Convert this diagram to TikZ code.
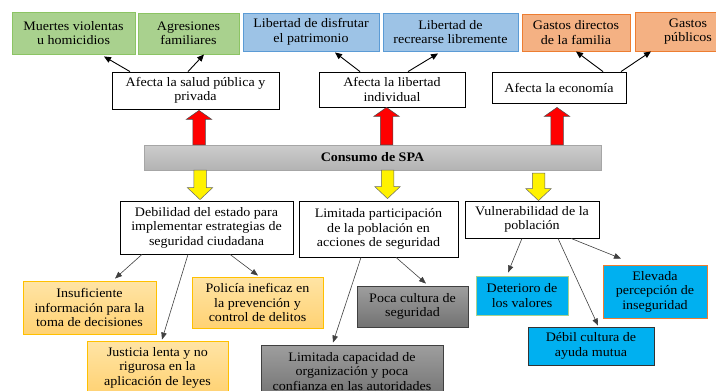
\documentclass[tikz,border=0pt]{standalone}
\usepackage{fontspec}
\setmainfont{Liberation Serif}[FakeStretch=1.08]
\usetikzlibrary{arrows.meta,calc}
\definecolor{leafgreen}{RGB}{169,209,142}
\definecolor{leafedge}{RGB}{140,196,100}
\definecolor{skyblue}{RGB}{157,195,230}
\definecolor{skyedge}{RGB}{91,155,213}
\definecolor{peach}{RGB}{244,177,131}
\definecolor{peachedge}{RGB}{237,125,49}
\definecolor{sandtop}{RGB}{255,228,165}
\definecolor{sandbot}{RGB}{255,210,115}
\definecolor{sandedge}{RGB}{255,192,0}
\definecolor{cyanfill}{RGB}{0,176,240}

\newcommand{\fatarrow}[4]{%
  \draw[#1] let \p1=(#2), \p2=(#3) in
    ({\x1-6.25pt},\y1) -- ({\x1-6.25pt},{\y2+(#4)}) -- ({\x1-12.75pt},{\y2+(#4)}) -- (\x1,\y2)
    -- ({\x1+12.75pt},{\y2+(#4)}) -- ({\x1+6.25pt},{\y2+(#4)}) -- ({\x1+6.25pt},\y1) -- cycle;}

\tikzset{
  box/.style={draw, align=center, inner sep=1pt, font=\fontsize{13}{14.5}\selectfont},
  whitebox/.style={box, fill=white, draw=black, line width=0.8pt},
  greenbox/.style={box, fill=leafgreen, draw=leafedge, line width=0.9pt},
  bluebox/.style={box, fill=skyblue, draw=skyedge, line width=0.9pt},
  peachbox/.style={box, fill=peach, draw=peachedge, line width=0.9pt},
  sandbox/.style={box, top color=sandtop, bottom color=sandbot, draw=sandedge, line width=0.9pt},
  greybox/.style={box, top color=black!38, bottom color=black!55, draw=black!75, line width=0.9pt},
  cyanbox/.style={box, fill=cyanfill, line width=0.9pt},
  link/.style={-{Triangle[length=7pt,width=6pt]}, line width=0.9pt, draw=black},
  thinlink/.style={-{Triangle[length=7pt,width=5.5pt]}, line width=0.6pt, draw=black!75},
  redblock/.style={fill=red, draw=black!70, line width=0.5pt},
  yellowblock/.style={fill=yellow, draw=black!60, line width=0.5pt}
}

\begin{document}
\begin{tikzpicture}[x=1pt,y=-1pt]
  \useasboundingbox (0,0) rectangle (716,391);

  % consequences
  \node[greenbox, minimum width=123pt, minimum height=42pt] (muertes) at (73.5,33) {Muertes violentas\\u homicidios};
  \node[greenbox, minimum width=101pt, minimum height=41pt] (agresiones) at (188.5,33.5) {Agresiones\\familiares};
  \node[bluebox, minimum width=136pt, minimum height=38pt] (disfrutar) at (311,32) {Libertad de disfrutar\\el patrimonio};
  \node[bluebox, minimum width=135pt, minimum height=38pt] (recrearse) at (450.5,32) {Libertad de\\recrearse libremente};
  \node[peachbox, minimum width=108pt, minimum height=37pt] (gdirectos) at (576,32.5) {Gastos directos\\de la familia};
  \node[peachbox, minimum width=106pt, minimum height=39pt] (gpublicos) at (688,31.5) {Gastos\\públicos};

  \node[whitebox, minimum width=167pt, minimum height=37pt] (asalud) at (195.5,90.5) {Afecta la salud pública y\\privada};
  \node[whitebox, minimum width=146pt, minimum height=35pt] (alibertad) at (392,89.5) {Afecta la libertad\\individual};
  \node[whitebox, minimum width=134pt, minimum height=31pt] (aeconomia) at (559,87.5) {Afecta la economía};

  % central problem
  \node[box, top color=black!20, bottom color=black!30, draw=black!35, minimum width=457pt, minimum height=25pt] (bar) at (372.5,157.5) {\textbf{Consumo de SPA}};

  % causes
  \node[whitebox, minimum width=173pt, minimum height=53pt] (debilidad) at (206.5,227.5) {Debilidad del estado para\\implementar estrategias de\\seguridad ciudadana};
  \node[whitebox, minimum width=159pt, minimum height=56pt] (limitada) at (378.5,229) {Limitada participación\\de la población en\\acciones de seguridad};
  \node[whitebox, minimum width=134pt, minimum height=37pt] (vulnerab) at (532,219.5) {Vulnerabilidad de la\\población};

  \node[sandbox, minimum width=133pt, minimum height=53pt] (insuf) at (89.5,307.5) {Insuficiente\\información para la\\toma de decisiones};
  \node[sandbox, minimum width=131pt, minimum height=51pt] (policia) at (257.5,302.5) {Policía ineficaz en\\la prevención y\\control de delitos};
  \node[sandbox, minimum width=141pt, minimum height=53pt] (justicia) at (157.5,367.5) {Justicia lenta y no\\rigurosa en la\\aplicación de leyes};
  \node[greybox, minimum width=182pt, minimum height=53pt] (capacidad) at (352,371.5) {Limitada capacidad de\\organización y poca\\confianza en las autoridades};
  \node[greybox, minimum width=111pt, minimum height=41pt] (poca) at (412.5,306.5) {Poca cultura de\\seguridad};
  \node[cyanbox, draw=leafgreen, minimum width=92pt, minimum height=39pt] (deterioro) at (522,295.5) {Deterioro de\\los valores};
  \node[cyanbox, draw=peachedge, minimum width=104pt, minimum height=53pt] (elevada) at (655,291.5) {Elevada\\percepción de\\inseguridad};
  \node[cyanbox, draw=black!80, minimum width=126pt, minimum height=38pt] (debil) at (591,346) {Débil cultura de\\ayuda mutua};

  % block arrows
  \fatarrow{redblock}{$(bar.north -| asalud)+(3.5,0)$}{$(asalud.south)+(3.5,1)$}{-9pt}
  \fatarrow{redblock}{$(bar.north -| alibertad)+(-5.5,0)$}{$(alibertad.south)+(-5.5,0)$}{-9pt}
  \fatarrow{redblock}{$(bar.north -| aeconomia)+(-2,0)$}{$(aeconomia.south)+(-2,4)$}{-9pt}
  \fatarrow{yellowblock}{$(bar.south -| debilidad)+(-6.5,0)$}{$(debilidad.north)+(-6.5,-1)$}{12pt}
  \fatarrow{yellowblock}{$(bar.south -| limitada)+(9,0)$}{$(limitada.north)+(9,-2)$}{12pt}
  \fatarrow{yellowblock}{$(bar.south -| vulnerab)+(6.5,3)$}{$(vulnerab.north)+(6.5,0)$}{12pt}

  % effects
  \draw[link] ($(asalud.north)+(-65.5,0)$) -- ($(muertes.south)+(30.5,2)$);
  \draw[link] ($(asalud.north)+(-7.5,0)$) -- ($(agresiones.south)+(15.5,0)$);
  \draw[link] ($(alibertad.north)+(-32,0)$) -- ($(disfrutar.south)+(24,1)$);
  \draw[link] ($(alibertad.north)+(16,0)$) -- ($(recrearse.south)+(-12.5,2)$);
  \draw[link] ($(aeconomia.north)+(44,0)$) -- ($(gdirectos.south)+(0,0)$);
  \draw[link] ($(aeconomia.north)+(62,0)$) -- ($(gpublicos.south)+(-37,0)$);

  % causes
  \draw[thinlink] ($(debilidad.south)+(-64.5,0)$) -- ($(insuf.north)+(25.5,-2)$);
  \draw[thinlink] ($(debilidad.south)+(-18.5,0)$) -- ($(justicia.north)+(4.5,-1)$);
  \draw[thinlink] ($(debilidad.south)+(23.5,0)$) -- ($(policia.north)+(0.5,-1)$);
  \draw[thinlink] ($(limitada.south)+(-17.5,0)$) -- ($(capacidad.north)+(-19,-2)$);
  \draw[thinlink] ($(limitada.south)+(17.5,0)$) -- ($(poca.north)+(13.5,-2)$);
  \draw[thinlink] ($(vulnerab.south)+(-10,0)$) -- ($(deterioro.north)+(-14,-3)$);
  \draw[thinlink] ($(vulnerab.south)+(26,0)$) -- ($(debil.north)+(7,-1)$);
  \draw[thinlink] ($(vulnerab.south)+(39,0)$) -- ($(elevada.north)+(-34,-6)$);
\end{tikzpicture}
\end{document}
